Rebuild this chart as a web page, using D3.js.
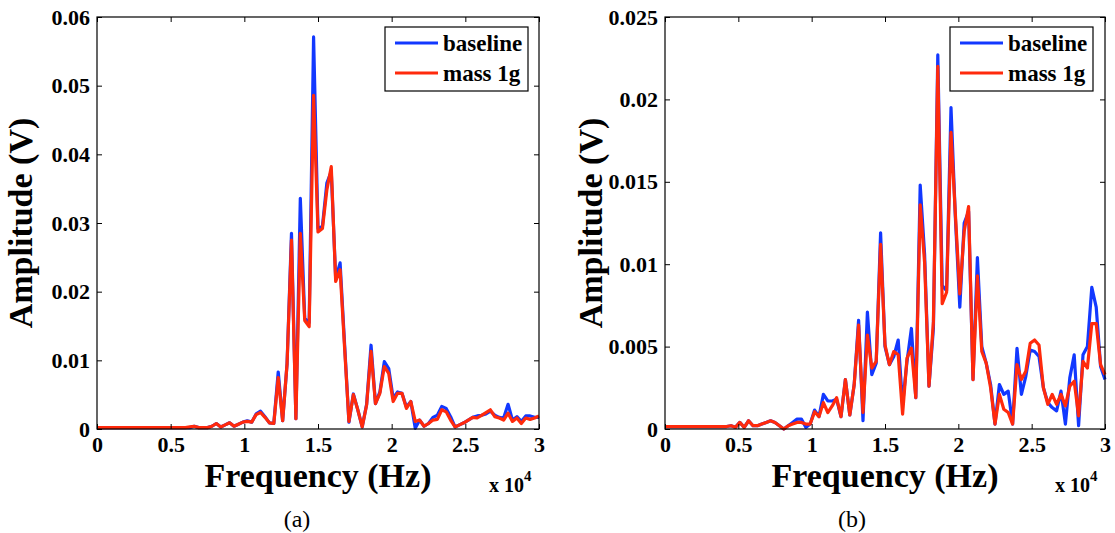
<!DOCTYPE html>
<html>
<head>
<meta charset="utf-8">
<script src="https://cdn.jsdelivr.net/npm/d3@7"></script>
<style>
  html, body { margin: 0; padding: 0; background: #fff; }
  svg { display: block; }
  text { font-family: "Liberation Serif", "Times New Roman", serif; fill: #000; }
</style>
</head>
<body>
<svg id="fig" width="1115" height="533"></svg>
<script>
// FFT bin frequencies (Hz), 300 Hz spacing
const freqHz = [
  0,300,600,900,1200,1500,1800,2100,2400,2700,
  3000,3300,3600,3900,4200,4500,4800,5100,5400,5700,
  6000,6300,6600,6900,7200,7500,7800,8100,8400,8700,
  9000,9300,9600,9900,10200,10500,10800,11100,11400,11700,
  12000,12300,12600,12900,13200,13500,13800,14100,14400,14700,
  15000,15300,15600,15900,16200,16500,16800,17100,17400,17700,
  18000,18300,18600,18900,19200,19500,19800,20100,20400,20700,
  21000,21300,21600,21900,22200,22500,22800,23100,23400,23700,
  24000,24300,24600,24900,25200,25500,25800,26100,26400,26700,
  27000,27300,27600,27900,28200,28500,28800,29100,29400,29700,
  30000
];

// (a) amplitude spectra, volts
const aBaseline = [
  0.0002,0.0002,0.0002,0.0002,0.0002,0.0002,0.0002,0.0002,0.0002,0.0002,
  0.0002,0.0002,0.0002,0.0002,0.0002,0.0002,0.0002,0.0002,0.0002,0.0002,
  0.0002,0.0002,0.0004,0.0002,0.0002,0.0002,0.0004,0.0008,0.0003,0.0006,
  0.0009,0.0004,0.0007,0.0010,0.0012,0.0010,0.0022,0.0026,0.0018,0.0009,
  0.0008,0.0083,0.0012,0.0095,0.0285,0.0015,0.0336,0.0161,0.0155,0.0571,
  0.0292,0.0295,0.0358,0.0375,0.0219,0.0242,0.0125,0.0010,0.0051,0.0028,
  0.0003,0.0036,0.0122,0.0037,0.0054,0.0098,0.0088,0.0045,0.0054,0.0052,
  0.0032,0.0040,0.0001,0.0013,0.0004,0.0008,0.0017,0.0020,0.0033,0.0030,
  0.0018,0.0003,0.0006,0.0009,0.0013,0.0017,0.0019,0.0020,0.0022,0.0026,
  0.0020,0.0017,0.0016,0.0036,0.0013,0.0018,0.0011,0.0019,0.0019,0.0017,
  0.0017
];
const aMass1g = [
  0.0002,0.0002,0.0002,0.0002,0.0002,0.0002,0.0002,0.0002,0.0002,0.0002,
  0.0002,0.0002,0.0002,0.0002,0.0002,0.0002,0.0002,0.0002,0.0002,0.0002,
  0.0002,0.0003,0.0004,0.0002,0.0002,0.0002,0.0004,0.0008,0.0003,0.0006,
  0.0009,0.0004,0.0007,0.0010,0.0011,0.0010,0.0021,0.0024,0.0017,0.0009,
  0.0008,0.0075,0.0012,0.0095,0.0275,0.0015,0.0285,0.0158,0.0149,0.0486,
  0.0287,0.0292,0.0348,0.0382,0.0215,0.0232,0.0120,0.0011,0.0050,0.0028,
  0.0003,0.0035,0.0113,0.0037,0.0052,0.0091,0.0081,0.0040,0.0052,0.0052,
  0.0030,0.0040,0.0011,0.0013,0.0004,0.0008,0.0013,0.0014,0.0028,0.0025,
  0.0013,0.0003,0.0006,0.0009,0.0013,0.0017,0.0016,0.0020,0.0024,0.0028,
  0.0018,0.0016,0.0013,0.0023,0.0011,0.0016,0.0008,0.0016,0.0014,0.0016,
  0.0019
];

// (b) amplitude spectra, volts
const bBaseline = [
  0.00015,0.00015,0.00015,0.00015,0.00015,0.00015,0.00015,0.00015,0.00015,0.00015,
  0.00015,0.00015,0.00015,0.00015,0.00015,0.0002,0.0001,0.0004,0.0001,0.0005,
  0.0002,0.0002,0.0003,0.0004,0.0005,0.0004,0.0002,0.0000,0.0002,0.0004,
  0.0006,0.0006,0.0001,0.0003,0.00115,0.00075,0.0021,0.0017,0.0017,0.0018,
  0.00075,0.0030,0.00085,0.0027,0.0066,0.0005,0.0071,0.0033,0.0040,0.0119,
  0.0050,0.0039,0.0044,0.0054,0.0015,0.0041,0.0061,0.0019,0.0148,0.0106,
  0.0026,0.0061,0.0227,0.0087,0.0084,0.0195,0.0128,0.0074,0.0125,0.0132,
  0.0030,0.0104,0.0050,0.0040,0.0027,0.0003,0.0027,0.0021,0.0023,0.0003,
  0.0049,0.0021,0.0032,0.0048,0.0047,0.0044,0.0025,0.0016,0.0013,0.0011,
  0.0023,0.0003,0.0031,0.0045,0.0002,0.0045,0.0050,0.0086,0.0074,0.0038,
  0.0030
];
const bMass1g = [
  0.00015,0.00015,0.00015,0.00015,0.00015,0.00015,0.00015,0.00015,0.00015,0.00015,
  0.00015,0.00015,0.00015,0.00015,0.00015,0.0002,0.0001,0.0004,0.0001,0.0005,
  0.0002,0.0002,0.0003,0.0004,0.0005,0.0004,0.0002,0.0000,0.0002,0.0003,
  0.0004,0.0004,0.0003,0.0003,0.00105,0.00075,0.0016,0.0010,0.0014,0.0019,
  0.00075,0.0030,0.00085,0.0027,0.0063,0.0010,0.0057,0.0037,0.0041,0.0112,
  0.0051,0.0039,0.0047,0.0045,0.0009,0.0043,0.0049,0.0019,0.0136,0.0101,
  0.0026,0.0065,0.0220,0.0076,0.0083,0.0180,0.0130,0.0082,0.0120,0.0135,
  0.0030,0.0093,0.0047,0.0040,0.0025,0.0003,0.0021,0.0012,0.0010,0.0003,
  0.0039,0.0030,0.0035,0.0052,0.0054,0.0051,0.0025,0.0015,0.0021,0.0015,
  0.0021,0.0014,0.0026,0.0029,0.0008,0.0041,0.0037,0.0064,0.0064,0.0039,
  0.0033
];

// Axis ticks
const xTicks = [0, 5000, 10000, 15000, 20000, 25000, 30000];
const aYTicks = [0, 0.01, 0.02, 0.03, 0.04, 0.05, 0.06];
const bYTicks = [0, 0.005, 0.01, 0.015, 0.02, 0.025];

const seriesNames = ["baseline", "mass 1g"];
const seriesColors = ["#1238ff", "#ff2a0c"];

const svg = d3.select("#fig");
svg.append("rect").attr("width", 1115).attr("height", 533).attr("fill", "#fff");

function drawPanel(p) {
  const x = d3.scaleLinear().domain([0, 30000]).range([p.left, p.right]);
  const y = d3.scaleLinear().domain([0, p.yMax]).range([p.bottom, p.top]);
  const g = svg.append("g");

  // data lines
  const line = d3.line().x((d, i) => x(freqHz[i])).y(d => y(d));
  [p.base, p.mass].forEach((vals, k) => {
    g.append("path").datum(vals)
      .attr("d", line)
      .attr("fill", "none")
      .attr("stroke", seriesColors[k])
      .attr("stroke-width", 3.2)
      .attr("stroke-linejoin", "round");
  });

  const tickFont = g => g.selectAll("text")
    .style("font-size", "22px").style("font-weight", "bold")
    .style("font-family", "'Liberation Serif', serif");

  // bottom axis with labels, inward ticks
  g.append("g").attr("transform", `translate(0,${p.bottom})`)
    .call(d3.axisBottom(x).tickValues(xTicks).tickSizeInner(-5).tickSizeOuter(0)
      .tickPadding(7).tickFormat(d => String(d / 1e4)))
    .call(a => a.select(".domain").remove())
    .call(tickFont);
  // top axis, ticks only
  g.append("g").attr("transform", `translate(0,${p.top})`)
    .call(d3.axisTop(x).tickValues(xTicks).tickSizeInner(-5).tickSizeOuter(0).tickFormat(""))
    .call(a => a.select(".domain").remove());
  // left axis with labels
  g.append("g").attr("transform", `translate(${p.left},0)`)
    .call(d3.axisLeft(y).tickValues(p.yTicks).tickSizeInner(-5).tickSizeOuter(0)
      .tickPadding(7).tickFormat(d => String(d)))
    .call(a => a.select(".domain").remove())
    .call(tickFont);
  // right axis, ticks only
  g.append("g").attr("transform", `translate(${p.right},0)`)
    .call(d3.axisRight(y).tickValues(p.yTicks).tickSizeInner(-5).tickSizeOuter(0).tickFormat(""))
    .call(a => a.select(".domain").remove());

  // plot frame
  g.append("rect")
    .attr("x", p.left).attr("y", p.top)
    .attr("width", p.right - p.left).attr("height", p.bottom - p.top)
    .attr("fill", "none").attr("stroke", "#000").attr("stroke-width", 1.2);

  // axis titles
  g.append("text")
    .attr("x", (p.left + p.right) / 2).attr("y", 487)
    .attr("text-anchor", "middle")
    .style("font-size", "34px").style("font-weight", "bold")
    .text("Frequency (Hz)");
  g.append("text")
    .attr("transform", `translate(${p.yTitleX},${(p.top + p.bottom) / 2}) rotate(-90)`)
    .attr("text-anchor", "middle")
    .style("font-size", "34px").style("font-weight", "bold")
    .text("Amplitude (V)");

  // x-axis exponent
  const ex = g.append("text")
    .attr("x", p.right - 50).attr("y", 492)
    .style("font-size", "20px").style("font-weight", "bold");
  ex.append("tspan").text("x 10");
  ex.append("tspan").attr("dy", -11).style("font-size", "15px").text("4");

  // panel caption
  g.append("text")
    .attr("x", p.captionX).attr("y", 527)
    .attr("text-anchor", "middle")
    .style("font-size", "24px")
    .text(p.caption);

  // legend
  const lg = g.append("g").attr("transform", `translate(${p.legendX},27)`);
  lg.append("rect").attr("width", 143).attr("height", 64)
    .attr("fill", "#fff").attr("stroke", "#000").attr("stroke-width", 1.2);
  seriesNames.forEach((name, k) => {
    const ly = 16 + k * 30;
    lg.append("line").attr("x1", 10).attr("x2", 53).attr("y1", ly).attr("y2", ly)
      .attr("stroke", seriesColors[k]).attr("stroke-width", 3.2);
    lg.append("text").attr("x", 58).attr("y", ly + 8)
      .style("font-size", "23px").style("font-weight", "bold")
      .text(name);
  });
}

drawPanel({
  left: 97, right: 539, top: 17, bottom: 429,
  yMax: 0.06, yTicks: aYTicks, base: aBaseline, mass: aMass1g,
  yTitleX: 32, captionX: 297, caption: "(a)", legendX: 385
});
drawPanel({
  left: 665, right: 1105, top: 17, bottom: 429,
  yMax: 0.025, yTicks: bYTicks, base: bBaseline, mass: bMass1g,
  yTitleX: 602, captionX: 852, caption: "(b)", legendX: 950
});
</script>
</body>
</html>
